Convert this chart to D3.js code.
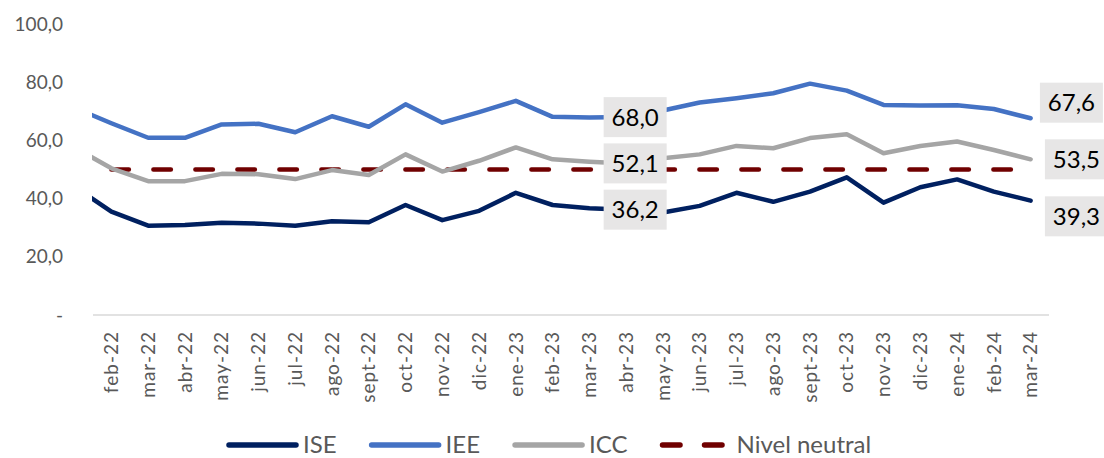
<!DOCTYPE html>
<html>
<head>
<meta charset="utf-8">
<script src="https://cdn.jsdelivr.net/npm/d3@7"></script>
<style>
  body { margin: 0; background: #fff; }
  svg { display: block; font-family: Lato, "Open Sans", sans-serif; }
</style>
</head>
<body>
<div id="chart"></div>
<script>
// categories (ene-22 is only a stub that runs off the left edge of the plot)
var prevMonth = "ene-22";
var months = ["feb-22","mar-22","abr-22","may-22","jun-22","jul-22","ago-22","sept-22",
  "oct-22","nov-22","dic-22","ene-23","feb-23","mar-23","abr-23","may-23","jun-23",
  "jul-23","ago-23","sept-23","oct-23","nov-23","dic-23","ene-24","feb-24","mar-24"];

// values start at ene-22
var ise = [44.1, 35.5, 30.7, 30.9, 31.7, 31.4, 30.7, 32.2, 31.9, 37.8, 32.6, 35.8, 42.0,
  37.8, 36.7, 36.2, 35.2, 37.5, 42.0, 38.9, 42.4, 47.3, 38.6, 43.9, 46.6, 42.4, 39.3];
var iee = [71.2, 65.9, 60.9, 60.9, 65.5, 65.7, 62.8, 68.3, 64.7, 72.4, 66.1, 69.7, 73.6,
  68.1, 67.9, 68.0, 70.3, 73.0, 74.5, 76.2, 79.5, 77.1, 72.2, 72.0, 72.1, 70.8, 67.6];
var icc = [57.5, 50.4, 46.0, 46.0, 48.5, 48.4, 46.7, 49.8, 48.1, 55.2, 49.3, 53.0, 57.6,
  53.5, 52.7, 52.1, 53.9, 55.2, 58.1, 57.3, 60.8, 62.1, 55.6, 58.1, 59.6, 56.7, 53.5];
var neutral = 50;

var yTicks = [0, 20, 40, 60, 80, 100];
var labelMonths = ["abr-23", "mar-24"];

var width = 1104, height = 458;

var svg = d3.select("#chart").append("svg")
    .attr("width", width)
    .attr("height", height);

var x = d3.scaleBand().domain(months).range([93, 1049]);
var y = d3.scaleLinear().domain([0, 100]).range([315, 24]);

// x position for index into the value arrays (0 = ene-22)
function px(i) {
  return x(months[0]) + x.bandwidth() / 2 + (i - 1) * x.step();
}

var locale = d3.formatLocale({decimal: ",", thousands: ".", grouping: [3], currency: ["", ""]});
var fmt = locale.format(".1f");

// y axis labels
svg.append("g").selectAll("text")
  .data(yTicks)
  .enter().append("text")
  .attr("x", 63)
  .attr("y", function(d) { return y(d); })
  .attr("dy", "0.35em")
  .attr("text-anchor", "end")
  .attr("fill", "#595959")
  .style("font-size", "19px")
  .text(function(d) { return d === 0 ? "-" : fmt(d); });

// baseline
svg.append("line")
  .attr("x1", x.range()[0]).attr("x2", x.range()[1])
  .attr("y1", y(0)).attr("y2", y(0))
  .attr("stroke", "#d9d9d9")
  .attr("stroke-width", 1.5);

// x labels
svg.append("g").selectAll("text")
  .data(months)
  .enter().append("text")
  .attr("transform", function(d) {
    return "translate(" + (x(d) + x.bandwidth() / 2) + "," + 331 + ") rotate(-90)";
  })
  .attr("dy", "0.35em")
  .attr("text-anchor", "end")
  .attr("fill", "#595959")
  .style("font-size", "19px")
  .style("letter-spacing", "1px")
  .text(function(d) { return d; });

svg.append("clipPath").attr("id", "plot-clip")
  .append("rect")
  .attr("x", x.range()[0] - 1).attr("y", 0)
  .attr("width", width).attr("height", height);

var line = d3.line()
  .x(function(d, i) { return px(i); })
  .y(function(d) { return y(d); });

var series = [
  {name: "ISE", values: ise, color: "#002060"},
  {name: "IEE", values: iee, color: "#4472c4"},
  {name: "ICC", values: icc, color: "#a5a5a5"}
];

// neutral level, feb-22 to mar-24
svg.append("line")
  .attr("x1", px(1)).attr("x2", px(months.length))
  .attr("y1", y(neutral)).attr("y2", y(neutral))
  .attr("stroke", "#700000")
  .attr("stroke-width", 4.5)
  .attr("stroke-linecap", "round")
  .attr("stroke-dasharray", "17.5,24.5");

svg.append("g").attr("clip-path", "url(#plot-clip)")
  .selectAll("path")
  .data(series.slice().reverse())
  .enter().append("path")
  .attr("d", function(d) { return line(d.values); })
  .attr("fill", "none")
  .attr("stroke", function(d) { return d.color; })
  .attr("stroke-width", 4.5)
  .attr("stroke-linejoin", "round")
  .attr("stroke-linecap", "round");

// data labels
var endNudge = {ISE: 15.7, IEE: -15.6, ICC: 0};
var endShift = {ISE: 45.8, IEE: 40.8, ICC: 45.8};
var labels = [];
labelMonths.forEach(function(m) {
  var i = months.indexOf(m) + 1;
  var last = (m === months[months.length - 1]);
  series.forEach(function(s) {
    labels.push({
      text: fmt(s.values[i]),
      cx: px(i) + (last ? endShift[s.name] : 9),
      cy: y(s.values[i]) + (last ? endNudge[s.name] : 0)
    });
  });
});

var lab = svg.append("g").selectAll("g")
  .data(labels)
  .enter().append("g")
  .attr("transform", function(d) { return "translate(" + d.cx + "," + d.cy + ")"; });

lab.append("rect")
  .attr("x", -31.5).attr("y", -20)
  .attr("width", 63).attr("height", 40)
  .attr("fill", "#e7e6e6");

lab.append("text")
  .attr("text-anchor", "middle")
  .attr("dy", "0.36em")
  .attr("fill", "#000")
  .style("font-size", "24px")
  .text(function(d) { return d.text; });

// legend
var legendItems = series.concat([{name: "Nivel neutral", color: "#700000", dashed: true}]);
var lx = 227, ly = 445;
legendItems.forEach(function(d) {
  var g = svg.append("g").attr("transform", "translate(" + lx + "," + ly + ")");
  var l = g.append("line")
    .attr("x1", 2).attr("x2", 69)
    .attr("stroke", d.color)
    .attr("stroke-width", 5.5)
    .attr("stroke-linecap", "round");
  if (d.dashed) l.attr("stroke-dasharray", "17.5,24.5");
  var t = g.append("text")
    .attr("x", 76)
    .attr("y", 8)
    .attr("fill", "#595959")
    .style("font-size", "24px")
    .text(d.name);
  lx += 76 + t.node().getComputedTextLength() + 33;
});
</script>
</body>
</html>
